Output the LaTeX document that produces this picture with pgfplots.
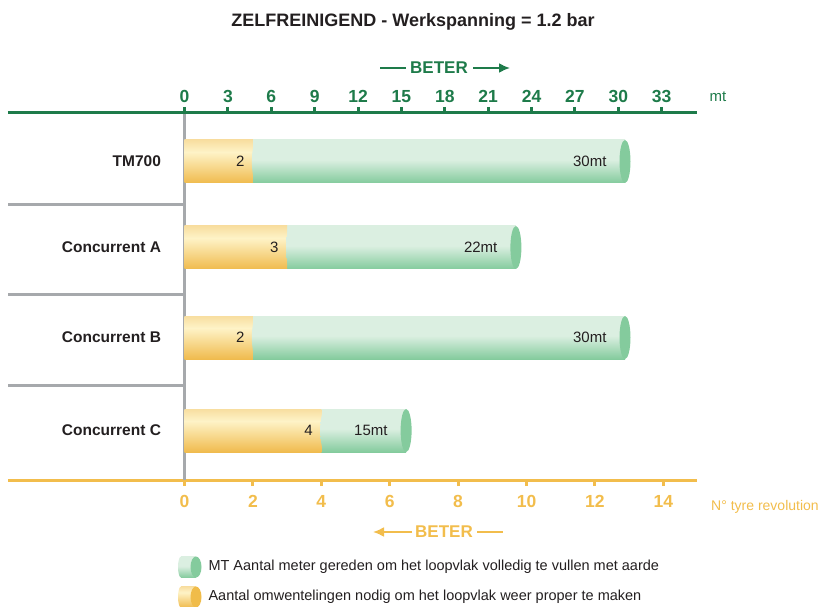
\documentclass[border=0pt]{standalone}
\usepackage{fontspec}
\setmainfont{Liberation Sans}
\usepackage{pgfplots}
\pgfplotsset{compat=1.18}
\usepackage{pgfplotstable}
\usetikzlibrary{arrows.meta}

\definecolor{gDark}{HTML}{1E7B4A}
\definecolor{oAx}{HTML}{F2BD4C}
\definecolor{grey}{HTML}{A6A9AC}
\definecolor{txt}{HTML}{231F20}
\definecolor{oTop}{HTML}{F8DEA0}
\definecolor{oMid}{HTML}{FEF3C7}
\definecolor{oBot}{HTML}{F0BB4E}
\definecolor{gTop}{HTML}{DBEFE1}
\definecolor{gBot}{HTML}{84CB9D}
\definecolor{gCap}{HTML}{84CB9D}
\definecolor{oCap}{HTML}{F0BC4A}

\pgfdeclareverticalshading{gbar}{100bp}{color(0bp)=(gBot); color(25bp)=(gBot); color(52bp)=(gTop); color(100bp)=(gTop)}
\pgfdeclareverticalshading{obar}{100bp}{color(0bp)=(oBot); color(25bp)=(oBot); color(61bp)=(oMid); color(75bp)=(oTop); color(100bp)=(oTop)}
\pgfdeclareplotmark{seam}{\pgfpathellipse{\pgfqpoint{4pt}{0pt}}{\pgfqpoint{5pt}{0pt}}{\pgfqpoint{0pt}{21.5pt}}\pgfshadepath{gbar}{0}\pgfusepath{discard}}
\pgfdeclareplotmark{cap}{\pgfpathellipse{\pgfpointorigin}{\pgfqpoint{5.5pt}{0pt}}{\pgfqpoint{0pt}{21.5pt}}\pgfusepathqfill}

% y = position of the bar (pt from bottom), rev = tyre revolutions, endx = end of green bar (rev scale)
\pgfplotstableread{
y     rev endx  mtlab
444.5 2   12.88 30mt
358.5 3   9.69  22mt
268.5 2   12.88 30mt
175.5 4   6.48  15mt
}\data

% one row of the table: green bar, orange bar
\newcommand{\onerow}[2]{%
\addplot[xbar, bar shift=0pt, bar width=43, draw=none, shading=gbar,
  skip coords between index={0}{#1}, skip coords between index={#2}{4}]
  table[x=endx, y=y] {\data};
\addplot[xbar, bar shift=0pt, bar width=43, draw=none, shading=obar,
  skip coords between index={0}{#1}, skip coords between index={#2}{4}]
  table[x=rev, y=y] {\data};
}

\begin{document}
\begin{tikzpicture}
\begin{axis}[
  at={(8pt,126pt)}, anchor=south west,
  scale only axis, width=689pt, height=367pt,
  xmin=-5.1608, xmax=14.9854, ymin=126, ymax=493,
  axis x line*=bottom, axis y line=middle,
  hide obscured x ticks=false,
  x axis line style={-, line width=3pt, color=oAx},
  y axis line style={-, line width=3pt, color=grey},
  xtick={0,2,...,14},
  xtick style={line width=3pt, color=oAx},
  tick align=outside, major tick length=6pt,
  /pgf/number format/assume math mode=true,
  xticklabel style={font=\bfseries\fontsize{17.5}{17.5}\selectfont, text=oAx, yshift=-6pt},
  ytick={444.5,358.5,268.5,175.5},
  yticklabels={TM700,Concurrent A,Concurrent B,Concurrent C},
  ytick style={draw=none},
  yticklabel style={font=\bfseries\fontsize{15.5}{15.5}\selectfont, text=txt, anchor=east, xshift=-14pt},
  clip=false,
]
\onerow{0}{1}
\onerow{1}{2}
\onerow{2}{3}
\onerow{3}{4}
% rounded seam of green part
\addplot[only marks, mark=seam] table[x=rev, y=y] {\data};
% caps
\addplot[only marks, mark=cap, color=gCap] table[x=endx, y=y] {\data};
% metre labels
\addplot[draw=none, nodes near coords, point meta=explicit symbolic,
  every node near coord/.append style={anchor=east, xshift=-15pt, font=\fontsize{15}{15}\selectfont, text=txt}]
  table[x=endx, y=y, meta=mtlab] {\data};
% revolution labels
\addplot[draw=none, nodes near coords, point meta=explicit symbolic,
  every node near coord/.append style={anchor=east, xshift=-5pt, font=\fontsize{15}{15}\selectfont, text=txt}]
  table[x=rev, y=y, meta=rev] {\data};
\end{axis}
\begin{axis}[
  at={(8pt,126pt)}, anchor=south west,
  scale only axis, width=689pt, height=367pt,
  xmin=-12.206, xmax=35.443, ymin=126, ymax=493,
  axis x line*=top, axis y line=none,
  x axis line style={-, line width=3pt, color=gDark},
  xtick={0,3,...,33},
  xtick style={line width=3pt, color=gDark},
  tick align=outside, major tick length=6pt,
  /pgf/number format/assume math mode=true,
  xticklabel style={font=\bfseries\fontsize{17.5}{17.5}\selectfont, text=gDark, yshift=1pt},
]
\end{axis}
% separators
\foreach \yy in {401.7,311.7,220.5}{
  \draw[grey, line width=3pt] (8pt,\yy pt) -- (184.5pt,\yy pt);
}
% title
\node[font=\bfseries\fontsize{18}{18}\selectfont, text=txt] at (413pt,584pt) {ZELFREINIGEND - Werkspanning = 1.2 bar};
% BETER top
\draw[gDark, line width=2pt] (380pt,538pt) -- (406pt,538pt);
\node[font=\bfseries\fontsize{17}{17}\selectfont, text=gDark] at (439pt,538pt) {BETER};
\draw[gDark, line width=2pt, -{Latex[length=11pt,width=10pt]}] (473pt,538pt) -- (510pt,538pt);
\node[font=\fontsize{15}{15}\selectfont, text=gDark, anchor=west] at (706pt,509pt) {mt};
% BETER bottom
\draw[oAx, line width=2pt, -{Latex[length=11pt,width=10pt]}] (412pt,74pt) -- (373pt,74pt);
\node[font=\bfseries\fontsize{17}{17}\selectfont, text=oAx] at (444pt,74pt) {BETER};
\draw[oAx, line width=2pt] (477pt,74pt) -- (503pt,74pt);
\node[font=\fontsize{14}{14}\selectfont, text=oAx, anchor=west, inner sep=0pt] at (711pt,99pt) {N° tyre revolution};
% legend
\shade[shading=gbar] (181pt,39pt) ellipse (3pt and 10.5pt);
\shade[shading=gbar] (181pt,28.5pt) rectangle (196pt,49.5pt);
\fill[gCap] (196pt,39pt) ellipse (5.5pt and 10.5pt);
\node[font=\fontsize{14.5}{14.5}\selectfont, text=txt, anchor=west] at (205pt,39pt) {MT Aantal meter gereden om het loopvlak volledig te vullen met aarde};
\shade[shading=obar] (181pt,9pt) ellipse (3pt and 10.5pt);
\shade[shading=obar] (181pt,-1.5pt) rectangle (196pt,19.5pt);
\fill[oCap] (196pt,9pt) ellipse (5.5pt and 10.5pt);
\node[font=\fontsize{14.5}{14.5}\selectfont, text=txt, anchor=west] at (205pt,9pt) {Aantal omwentelingen nodig om het loopvlak weer proper te maken};
\pgfresetboundingbox
\useasboundingbox (0pt,0pt) rectangle (825pt,606pt);
\end{tikzpicture}
\end{document}
